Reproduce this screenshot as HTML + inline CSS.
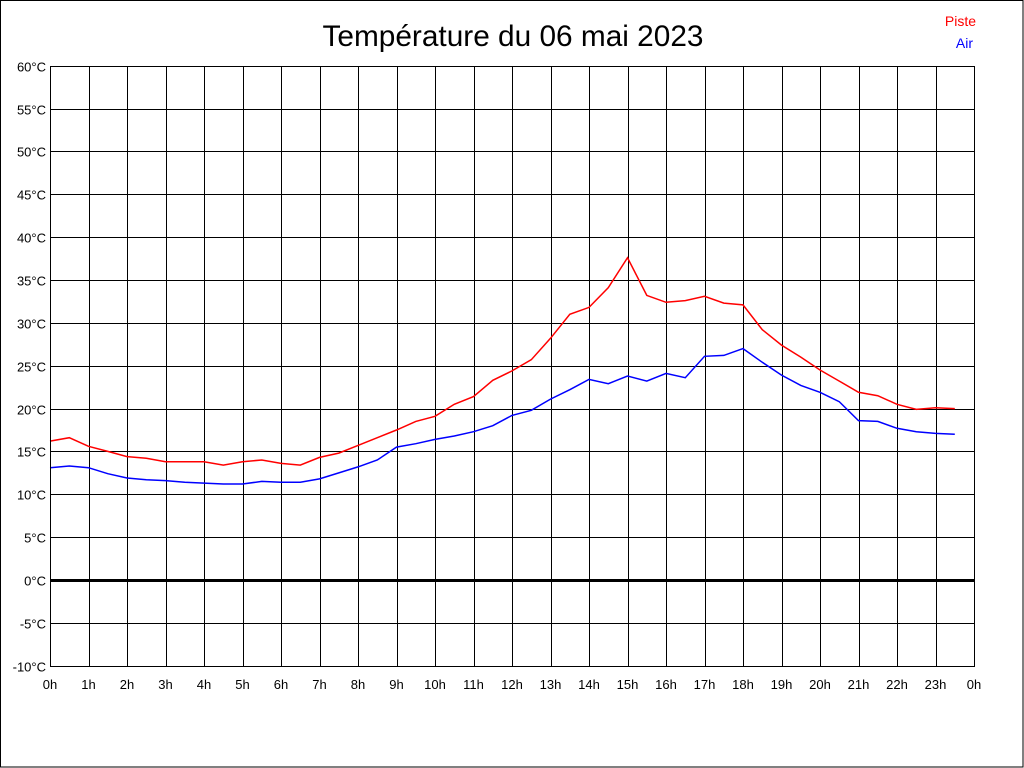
<!DOCTYPE html>
<html><head><meta charset="utf-8"><style>
html,body{margin:0;padding:0;background:#fff}
svg{display:block}
text{font-family:"Liberation Sans",Arial,sans-serif}
</style></head><body>
<svg id="s" width="1024" height="768" xmlns="http://www.w3.org/2000/svg">
<rect x="0.5" y="0.5" width="1022.5" height="766.5" fill="#fff" stroke="#000"/>
<text x="513" y="46" font-size="29.8" text-anchor="middle">Température du 06 mai 2023</text>
<text x="976" y="26" font-size="14" fill="#f00" text-anchor="end">Piste</text>
<text x="973" y="48" font-size="14" fill="#00f" text-anchor="end">Air</text>
<g id="g"></g>
</svg>
<script>
var g=document.getElementById('g'),h="";
var L=50,R=974,T=66,B=666;
function X(t){return L+t*38.5}
function Y(v){return 580-v*600/70}
for(var i=0;i<=24;i++){var x=Math.round(X(i))+0.5;h+='<line x1="'+x+'" y1="'+T+'" x2="'+x+'" y2="'+B+'" stroke="#000"/>';
h+='<text x="'+X(i)+'" y="689" font-size="13" text-anchor="middle">'+(i%24)+'h</text>';}
for(var v=-10;v<=60;v+=5){var y=Math.round(Y(v))+0.5;h+='<line x1="'+L+'" y1="'+y+'" x2="'+R+'" y2="'+y+'" stroke="#000"'+(v==0?' stroke-width="3"':'')+'/>';
h+='<text x="46" y="'+(y+5)+'" font-size="13" text-anchor="end">'+v+'°C</text>';}
var red=[16.2,16.6,15.6,15.0,14.4,14.2,13.8,13.8,13.8,13.4,13.8,14.0,13.6,13.4,14.3,14.8,15.7,16.6,17.5,18.5,19.1,20.5,21.4,23.3,24.4,25.7,28.2,31.0,31.8,34.1,37.6,33.2,32.4,32.6,33.1,32.3,32.1,29.2,27.4,26.0,24.5,23.2,21.9,21.5,20.5,19.9,20.1,20.0];
var blue=[13.1,13.3,13.1,12.4,11.9,11.7,11.6,11.4,11.3,11.2,11.2,11.5,11.4,11.4,11.8,12.5,13.2,14.0,15.5,15.9,16.4,16.8,17.3,18.0,19.2,19.8,21.1,22.2,23.4,22.9,23.8,23.2,24.1,23.6,26.1,26.2,27.0,25.4,23.9,22.7,21.9,20.8,18.6,18.5,17.7,17.3,17.1,17.0];
function pl(d,c){return '<polyline fill="none" stroke="'+c+'" stroke-width="1.5" points="'+d.map(function(v,i){return X(i/2).toFixed(1)+','+Y(v).toFixed(1)}).join(' ')+'"/>';}
h+=pl(red,'#f00')+pl(blue,'#00f');
h+='<rect x="'+(L+0.5)+'" y="'+(T+0.5)+'" width="'+(R-L)+'" height="'+(B-T)+'" fill="none" stroke="#000"/>';
g.innerHTML=h;
</script>
</body></html>
